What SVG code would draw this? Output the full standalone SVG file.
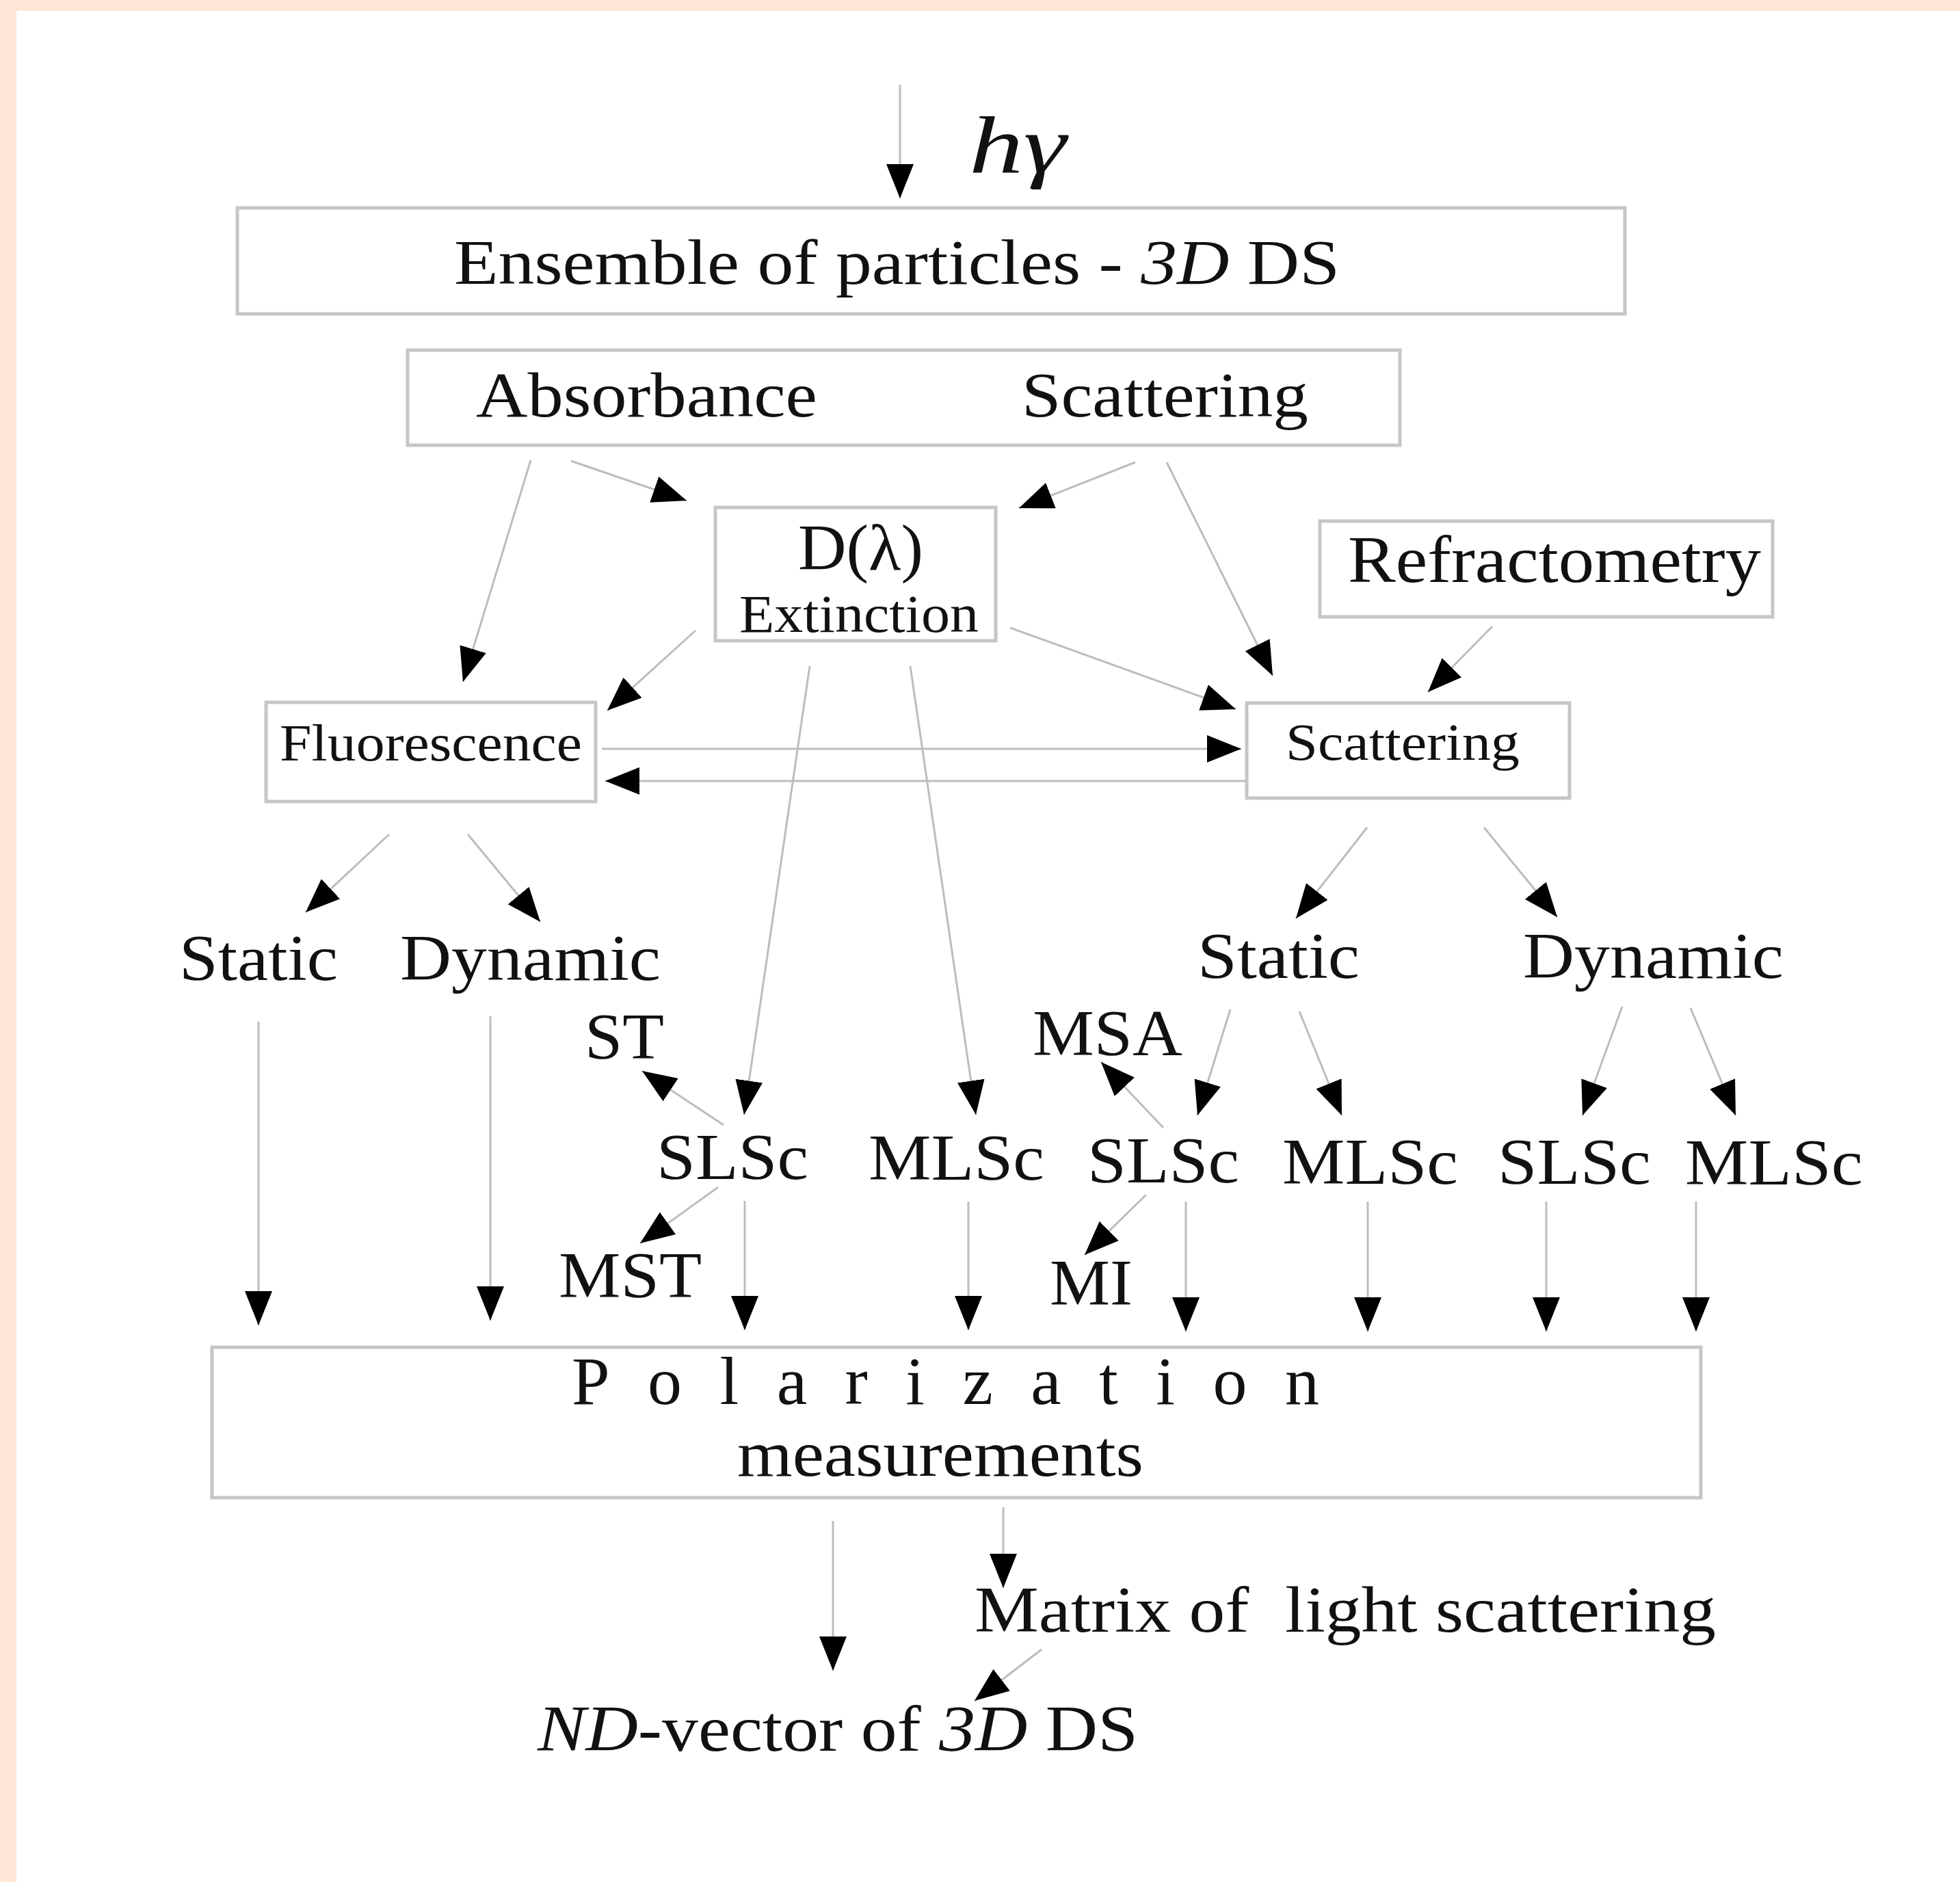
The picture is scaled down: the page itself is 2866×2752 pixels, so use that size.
<svg xmlns="http://www.w3.org/2000/svg" width="2866" height="2752" viewBox="0 0 2866 2752">
<style>
.box{fill:#ffffff;stroke:#c6c6c6;stroke-width:5}
.t{font-family:"Liberation Serif","Times New Roman",serif;fill:#111;}
.c line{stroke:#bdbdbd;stroke-width:3;marker-end:url(#ah)}
</style>
<defs>
<marker id="ah" markerUnits="userSpaceOnUse" markerWidth="52" markerHeight="40" refX="50" refY="20" orient="auto">
<path d="M0,0 L50,20 L0,40 z" fill="#000"/>
</marker>
</defs>
<rect x="0" y="0" width="2866" height="2752" fill="#ffe6d5"/>
<rect x="24" y="16" width="2842" height="2736" fill="#ffffff"/>

<g id="hv"><text class="t" x="1417" y="252" font-size="118" font-style="italic" textLength="142" lengthAdjust="spacingAndGlyphs">hγ</text></g>

<g id="ensemble"><rect class="box" x="347" y="304" width="2029" height="155"/>
<text class="t" x="664" y="415" font-size="94" textLength="1295" lengthAdjust="spacingAndGlyphs">Ensemble of particles - <tspan font-style="italic">3D</tspan> DS</text></g>

<g id="absscat"><rect class="box" x="596" y="512" width="1451" height="139"/>
<text class="t" x="696" y="609" font-size="94" textLength="499" lengthAdjust="spacingAndGlyphs">Absorbance</text>
<text class="t" x="1494" y="609" font-size="94" textLength="419" lengthAdjust="spacingAndGlyphs">Scattering</text></g>

<g id="extinction"><rect class="box" x="1046" y="742" width="410" height="195"/>
<text class="t" x="1167" y="833" font-size="96" textLength="183" lengthAdjust="spacingAndGlyphs">D(λ)</text>
<text class="t" x="1081" y="924" font-size="78" textLength="350" lengthAdjust="spacingAndGlyphs">Extinction</text></g>

<g id="refractometry"><rect class="box" x="1930" y="762" width="662" height="140"/>
<text class="t" x="1971" y="851" font-size="98" textLength="604" lengthAdjust="spacingAndGlyphs">Refractometry</text></g>

<g id="fluorescence"><rect class="box" x="389" y="1027" width="482" height="145"/>
<text class="t" x="409" y="1112" font-size="77" textLength="442" lengthAdjust="spacingAndGlyphs">Fluorescence</text></g>

<g id="scattering"><rect class="box" x="1823" y="1028" width="472" height="139"/>
<text class="t" x="1880" y="1111" font-size="77" textLength="342" lengthAdjust="spacingAndGlyphs">Scattering</text></g>

<g id="staticL"><text class="t" x="262" y="1433" font-size="96" textLength="232" lengthAdjust="spacingAndGlyphs">Static</text></g>
<g id="dynamicL"><text class="t" x="585" y="1433" font-size="96" textLength="381" lengthAdjust="spacingAndGlyphs">Dynamic</text></g>
<g id="staticR"><text class="t" x="1751" y="1430" font-size="96" textLength="237" lengthAdjust="spacingAndGlyphs">Static</text></g>
<g id="dynamicR"><text class="t" x="2227" y="1430" font-size="96" textLength="381" lengthAdjust="spacingAndGlyphs">Dynamic</text></g>
<g id="st"><text class="t" x="855" y="1548" font-size="96" textLength="116" lengthAdjust="spacingAndGlyphs">ST</text></g>
<g id="msa"><text class="t" x="1510" y="1543" font-size="96" textLength="219" lengthAdjust="spacingAndGlyphs">MSA</text></g>
<g id="slsc1"><text class="t" x="960" y="1724" font-size="96" textLength="222" lengthAdjust="spacingAndGlyphs">SLSc</text></g>
<g id="mlsc1"><text class="t" x="1270" y="1725" font-size="96" textLength="257" lengthAdjust="spacingAndGlyphs">MLSc</text></g>
<g id="slsc2"><text class="t" x="1590" y="1729" font-size="96" textLength="222" lengthAdjust="spacingAndGlyphs">SLSc</text></g>
<g id="mlsc2"><text class="t" x="1875" y="1731" font-size="96" textLength="257" lengthAdjust="spacingAndGlyphs">MLSc</text></g>
<g id="slsc3"><text class="t" x="2190" y="1731" font-size="96" textLength="224" lengthAdjust="spacingAndGlyphs">SLSc</text></g>
<g id="mlsc3"><text class="t" x="2464" y="1732" font-size="96" textLength="260" lengthAdjust="spacingAndGlyphs">MLSc</text></g>
<g id="mst"><text class="t" x="817" y="1897" font-size="96" textLength="209" lengthAdjust="spacingAndGlyphs">MST</text></g>
<g id="mi"><text class="t" x="1535" y="1908" font-size="96" textLength="121" lengthAdjust="spacingAndGlyphs">MI</text></g>

<g id="polarization"><rect class="box" x="310" y="1970" width="2177" height="220"/>
<text class="t" x="836" y="2053" font-size="100" textLength="1093" lengthAdjust="spacing">Polarization</text>
<text class="t" x="1078" y="2158" font-size="96" textLength="594" lengthAdjust="spacingAndGlyphs">measurements</text></g>

<g id="matrix"><text class="t" x="1425" y="2386" font-size="96" textLength="1084" lengthAdjust="spacingAndGlyphs" xml:space="preserve">Matrix of  light scattering</text></g>
<g id="ndvector"><text class="t" x="786" y="2560" font-size="96" textLength="878" lengthAdjust="spacingAndGlyphs"><tspan font-style="italic">ND</tspan>-vector of <tspan font-style="italic">3D</tspan> DS</text></g>

<g id="connectors" class="c">
<line x1="1316" y1="124" x2="1316" y2="290"/>
<line x1="835" y1="674" x2="1004" y2="732"/>
<line x1="776" y1="673" x2="677" y2="997"/>
<line x1="1660" y1="676" x2="1490" y2="743"/>
<line x1="1706" y1="676" x2="1861" y2="988"/>
<line x1="1017" y1="922" x2="888" y2="1039"/>
<line x1="1477" y1="918" x2="1807" y2="1037"/>
<line x1="2182" y1="916" x2="2088" y2="1012"/>
<line x1="880" y1="1095" x2="1815" y2="1095"/>
<line x1="1822" y1="1142" x2="885" y2="1142"/>
<line x1="1184" y1="974" x2="1088" y2="1630"/>
<line x1="1331" y1="974" x2="1427" y2="1630"/>
<line x1="569" y1="1220" x2="447" y2="1334"/>
<line x1="684" y1="1220" x2="790" y2="1348"/>
<line x1="1999" y1="1210" x2="1895" y2="1343"/>
<line x1="2170" y1="1210" x2="2277" y2="1341"/>
<line x1="378" y1="1494" x2="378" y2="1938"/>
<line x1="717" y1="1486" x2="717" y2="1931"/>
<line x1="1058" y1="1645" x2="939" y2="1566"/>
<line x1="1050" y1="1736" x2="936" y2="1818"/>
<line x1="1089" y1="1756" x2="1089" y2="1945"/>
<line x1="1416" y1="1757" x2="1416" y2="1945"/>
<line x1="1799" y1="1476" x2="1751" y2="1631"/>
<line x1="1900" y1="1479" x2="1962" y2="1631"/>
<line x1="1701" y1="1649" x2="1610" y2="1553"/>
<line x1="1676" y1="1747" x2="1586" y2="1835"/>
<line x1="1734" y1="1757" x2="1734" y2="1947"/>
<line x1="2000" y1="1757" x2="2000" y2="1947"/>
<line x1="2372" y1="1472" x2="2314" y2="1631"/>
<line x1="2472" y1="1474" x2="2538" y2="1631"/>
<line x1="2261" y1="1757" x2="2261" y2="1947"/>
<line x1="2480" y1="1757" x2="2480" y2="1947"/>
<line x1="1218" y1="2224" x2="1218" y2="2443"/>
<line x1="1467" y1="2204" x2="1467" y2="2322"/>
<line x1="1523" y1="2412" x2="1425" y2="2487"/>
</g>
</svg>
